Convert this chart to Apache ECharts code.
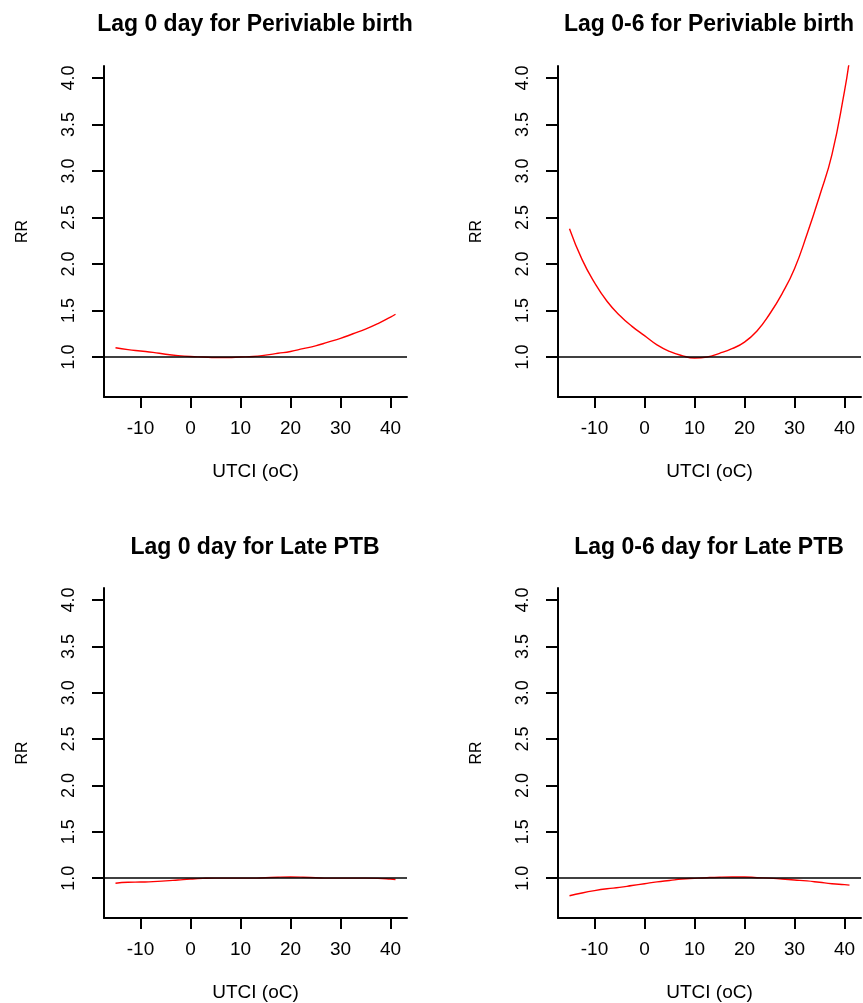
<!DOCTYPE html>
<html>
<head>
<meta charset="utf-8">
<script src="https://cdn.jsdelivr.net/npm/echarts@6/dist/echarts.min.js"></script>
<style>
  html, body { margin: 0; padding: 0; background: #fff; }
  #chart { width: 863px; height: 1003px; }
</style>
</head>
<body>
<div id="chart"></div>
<script>
// UTCI temperature (oC) where the curves were read
const utci = [-15, -12.5, -10, -7.5, -5, -2.5, 0, 2.5, 5, 7.5, 10, 12.5, 15, 17.5, 20, 22.5, 25, 27.5, 30, 32.5, 35, 37.5, 40, 41];

// RR values per panel
const rrLag0Periviable = [1.10, 1.08, 1.065, 1.05, 1.03, 1.015, 1.005, 1.0, 0.995, 0.995, 1.0, 1.005, 1.02, 1.04, 1.06, 1.09, 1.12, 1.16, 1.20, 1.25, 1.30, 1.36, 1.43, 1.46];
const rrLag06Periviable = [2.38, 2.05, 1.80, 1.60, 1.45, 1.33, 1.23, 1.13, 1.06, 1.015, 0.99, 1.0, 1.04, 1.09, 1.16, 1.28, 1.46, 1.68, 1.95, 2.32, 2.73, 3.18, 3.86, 4.2];
const rrLag0Late = [0.945, 0.955, 0.958, 0.962, 0.97, 0.98, 0.99, 0.997, 1.0, 1.0, 1.0, 1.0, 1.005, 1.01, 1.012, 1.01, 1.005, 1.0, 1.0, 1.0, 1.0, 0.998, 0.99, 0.985];
const rrLag06Late = [0.81, 0.84, 0.865, 0.885, 0.90, 0.92, 0.94, 0.96, 0.975, 0.99, 0.998, 1.005, 1.01, 1.012, 1.012, 1.005, 1.0, 0.99, 0.98, 0.97, 0.955, 0.94, 0.93, 0.925];

const titles = ["Lag 0 day for Periviable birth", "Lag 0-6 for Periviable birth", "Lag 0 day for Late PTB", "Lag 0-6 day for Late PTB"];
const xTicks = [-10, 0, 10, 20, 30, 40];
const yTicks = [1.0, 1.5, 2.0, 2.5, 3.0, 3.5, 4.0];
const xName = "UTCI (oC)";
const yName = "RR";

const panels = [rrLag0Periviable, rrLag06Periviable, rrLag0Late, rrLag06Late];
const grids = [
  { left: 104, top: 66, width: 303, height: 331 },
  { left: 558, top: 66, width: 303, height: 331 },
  { left: 104, top: 588, width: 303, height: 331 },
  { left: 558, top: 588, width: 303, height: 331 }
];
const titlePos = [
  { x: 255, y: 13 }, { x: 709, y: 13 }, { x: 255, y: 536 }, { x: 709, y: 536 }
];

const font = "Liberation Sans, Arial, sans-serif";
const axisLine = { show: true, onZero: false, lineStyle: { color: "#000", width: 2 } };

let mcharts = echarts.init(document.querySelector("#chart"));

let option = {
  backgroundColor: "#fff",
  animation: false,
  title: titles.map((t, i) => ({
    text: t,
    left: titlePos[i].x,
    top: titlePos[i].y,
    textAlign: "center",
    padding: 0,
    textStyle: { fontFamily: font, fontSize: 23, fontWeight: "bold", color: "#000" }
  })),
  grid: grids,
  xAxis: grids.map((g, i) => ({
    type: "value",
    gridIndex: i,
    min: -17.3,
    max: 43.3,
    name: xName,
    nameLocation: "middle",
    nameGap: 65,
    nameTextStyle: { fontFamily: font, fontSize: 19, color: "#000" },
    axisLine: axisLine,
    axisTick: { show: true, length: 11, customValues: xTicks, lineStyle: { color: "#000", width: 2 } },
    axisLabel: { customValues: xTicks, margin: 22, fontFamily: font, fontSize: 19, color: "#000" },
    splitLine: { show: false }
  })),
  yAxis: grids.map((g, i) => ({
    type: "value",
    gridIndex: i,
    min: 0.57,
    max: 4.13,
    name: yName,
    nameLocation: "middle",
    nameRotate: 90,
    nameGap: 73,
    nameTextStyle: { fontFamily: font, fontSize: 16, color: "#000" },
    axisLine: axisLine,
    axisTick: { show: true, length: 12, customValues: yTicks, lineStyle: { color: "#000", width: 2 } },
    axisLabel: {
      customValues: yTicks,
      rotate: 90,
      margin: 26,
      fontFamily: font,
      fontSize: 18,
      color: "#000",
      formatter: (v) => v.toFixed(1)
    },
    splitLine: { show: false }
  })),
  series: panels.map((vals, i) => ({
    type: "line",
    xAxisIndex: i,
    yAxisIndex: i,
    data: utci.map((x, k) => [x, vals[k]]),
    showSymbol: false,
    smooth: true,
    clip: true,
    lineStyle: { color: "#ff0000", width: 1.4 },
    markLine: {
      silent: true,
      symbol: "none",
      label: { show: false },
      lineStyle: { color: "#000", width: 1.5, type: "solid" },
      data: [{ yAxis: 1 }]
    },
    z: 3
  }))
};
mcharts.setOption(option);
</script>
</body>
</html>
